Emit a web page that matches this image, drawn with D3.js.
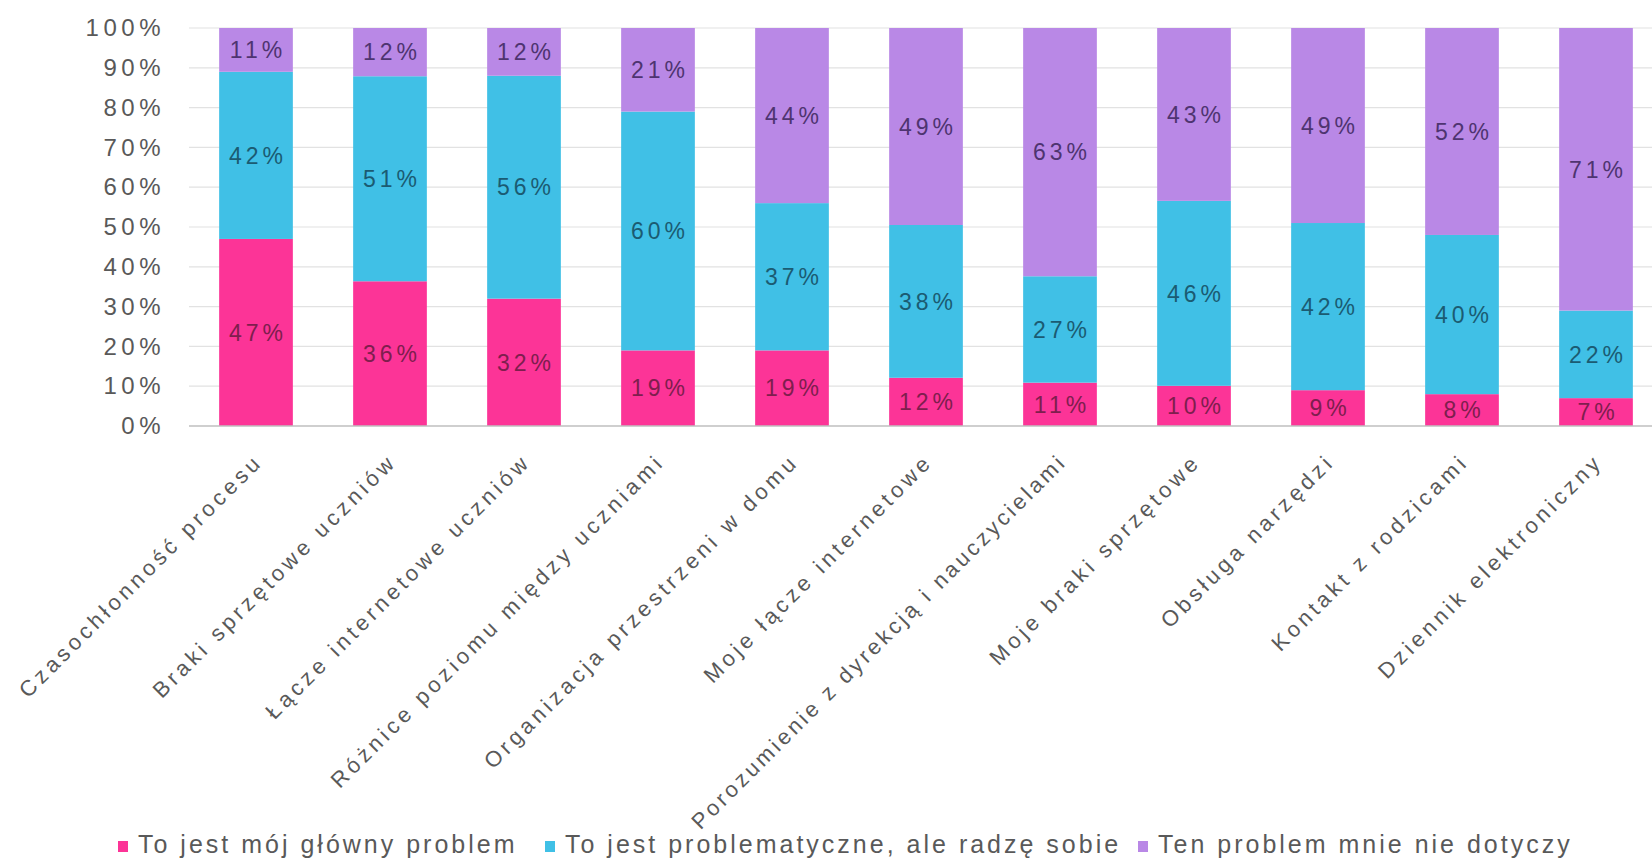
<!DOCTYPE html>
<html>
<head>
<meta charset="utf-8">
<script src="https://cdn.jsdelivr.net/npm/d3@7"></script>
<style>
  html, body { margin: 0; padding: 0; background: #ffffff; }
  svg { display: block; font-family: "Liberation Sans", Arial, sans-serif; }
</style>
</head>
<body>
<svg id="chart" width="1652" height="862"></svg>
<script>
const categories = [
  "Czasochłonność procesu",
  "Braki sprzętowe uczniów",
  "Łącze internetowe uczniów",
  "Różnice poziomu między uczniami",
  "Organizacja przestrzeni w domu",
  "Moje łącze internetowe",
  "Porozumienie z dyrekcją i nauczycielami",
  "Moje braki sprzętowe",
  "Obsługa narzędzi",
  "Kontakt z rodzicami",
  "Dziennik elektroniczny"
];
const seriesNames = [
  "To jest mój główny problem",
  "To jest problematyczne, ale radzę sobie",
  "Ten problem mnie nie dotyczy"
];
const mainProblem = [47, 36, 32, 19, 19, 12, 11, 10, 9, 8, 7];
const manageable  = [42, 51, 56, 60, 37, 38, 27, 46, 42, 40, 22];
const notConcern  = [11, 12, 12, 21, 44, 49, 63, 43, 49, 52, 71];
const yTicks = [0, 10, 20, 30, 40, 50, 60, 70, 80, 90, 100];

const colors = ["#FC3497", "#40C0E6", "#B988E6"];
const labelColors = ["#7E1E4E", "#1B5B72", "#4E3470"];

const svg = d3.select("#chart");

const x = d3.scaleBand().domain(categories).range([189, 1663]).paddingInner(0.45).paddingOuter(0.225);
const y = d3.scaleLinear().domain([0, 100]).range([426, 28]);

// gridlines
svg.append("g").selectAll("line").data(yTicks.filter(t => t > 0)).join("line")
  .attr("x1", 189).attr("x2", 1652)
  .attr("y1", d => y(d)).attr("y2", d => y(d))
  .attr("stroke", "#e2e2e2").attr("stroke-width", 1.2);

// y axis labels
const yAxis = d3.axisLeft(y).tickValues(yTicks).tickFormat(d => d + "%").tickSize(0).tickPadding(0);
const yg = svg.append("g").attr("transform", "translate(165,0)").call(yAxis);
yg.select(".domain").remove();
yg.selectAll("text")
  .attr("fill", "#595959").attr("font-size", 24).attr("letter-spacing", 4.5)
  .attr("font-family", "Liberation Sans, Arial, sans-serif");

// stack data
const rows = categories.map((c, i) => {
  const vals = [mainProblem[i], manageable[i], notConcern[i]];
  const tot = d3.sum(vals);
  return { cat: c, s0: vals[0] / tot * 100, s1: vals[1] / tot * 100, s2: vals[2] / tot * 100, raw: vals };
});
const stack = d3.stack().keys(["s0", "s1", "s2"]);
const layers = stack(rows);

layers.forEach((layer, li) => {
  const g = svg.append("g");
  g.selectAll("rect").data(layer).join("rect")
    .attr("x", d => x(d.data.cat))
    .attr("width", x.bandwidth())
    .attr("y", d => y(d[1]))
    .attr("height", d => y(d[0]) - y(d[1]))
    .attr("fill", colors[li]);
  g.selectAll("text").data(layer).join("text")
    .attr("x", d => x(d.data.cat) + x.bandwidth() / 2 + 2)
    .attr("y", d => (y(d[0]) + y(d[1])) / 2)
    .attr("dy", "0.36em")
    .attr("text-anchor", "middle")
    .attr("font-size", 23)
    .attr("letter-spacing", 4)
    .attr("fill", labelColors[li])
    .text(d => d.data.raw[li] + "%");
});

// baseline
svg.append("line").attr("x1", 189).attr("x2", 1652).attr("y1", y(0)).attr("y2", y(0))
  .attr("stroke", "#bfbfbf").attr("stroke-width", 1.5);

// category labels
svg.append("g").selectAll("text").data(categories).join("text")
  .attr("transform", d => `translate(${x(d) + x.bandwidth() / 2 + 8},${463}) rotate(-45)`)
  .attr("text-anchor", "end")
  .attr("font-size", 22)
  .attr("letter-spacing", d => d.length > 35 ? 3.2 : 4)
  .attr("fill", "#595959")
  .text(d => d);

// legend
const legendStarts = [118, 545, 1138];
const lg = svg.append("g");
seriesNames.forEach((name, i) => {
  lg.append("rect").attr("x", legendStarts[i]).attr("y", 841).attr("width", 10).attr("height", 11).attr("fill", colors[i]);
  lg.append("text").attr("x", legendStarts[i] + 20).attr("y", 853)
    .attr("font-size", 25).attr("letter-spacing", 3).attr("fill", "#595959")
    .text(name);
});
</script>
</body>
</html>
